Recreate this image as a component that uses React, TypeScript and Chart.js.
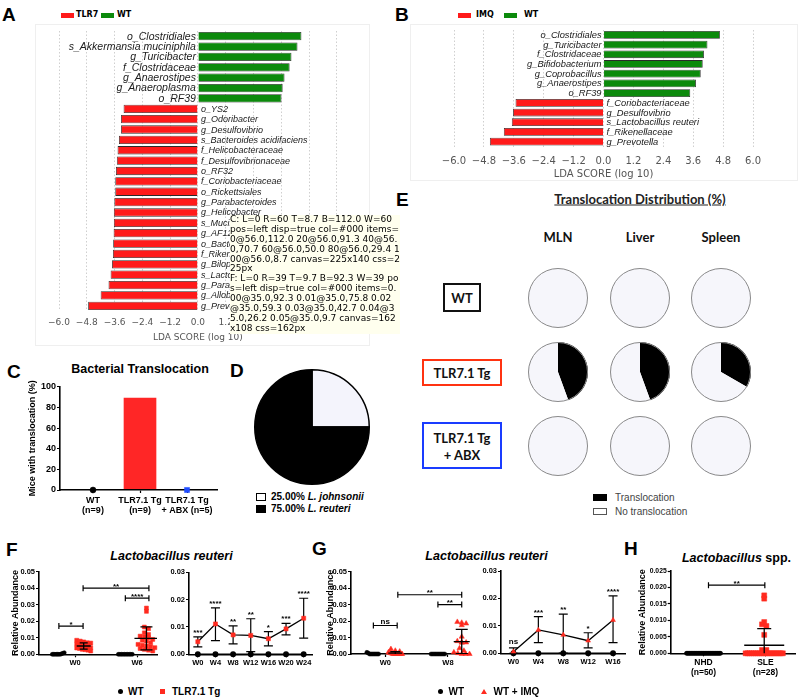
import React, { useEffect, useRef, useState } from 'react';
import { Chart, registerables } from 'chart.js';

Chart.register(...registerables);

const ARIAL = '"Liberation Sans", Arial, Helvetica, sans-serif';
const DEJAVU = '"DejaVu Sans", Verdana, sans-serif';
const CALIBRI = 'Lato, "Open Sans", sans-serif';

const LDA_RED = '#ff1a1a';
const LDA_GREEN = '#0c8a0c';
const PRISM_RED = '#ff2a1f';

// ---------------- Panel A (TLR7 vs WT LEfSe)
const aTaxa = [
  'o_Clostridiales', 's_Akkermansia muciniphila', 'g_Turicibacter', 'f_Clostridaceae', 'g_Anaerostipes',
  'g_Anaeroplasma', 'o_RF39', 'o_YS2', 'g_Odoribacter', 'g_Desulfovibrio', 's_Bacteroides acidifaciens',
  'f_Helicobacteraceae', 'f_Desulfovibrionaceae', 'o_RF32', 'f_Coriobacteriaceae', 'o_Rickettsiales',
  'g_Parabacteroides', 'g_Helicobacter', 's_Mucispirillum schaedleri', 'g_AF12', 'o_Bacteroidales',
  'f_Rikenellaceae', 'g_Bilophila', 's_Lactobacillus reuteri', 'g_Paraprevotella', 'g_Allobaculum', 'g_Prevotella',
];
const aLda = [
  4.47, 4.30, 4.04, 3.96, 3.74, 3.66, 3.61, -3.21, -3.32, -3.32, -3.41, -3.47, -3.50, -3.54, -3.57, -3.57,
  -3.61, -3.63, -3.63, -3.64, -3.66, -3.67, -3.71, -3.77, -3.86, -4.20, -4.74,
];
const ldaTicks = [-6.0, -4.8, -3.6, -2.4, -1.2, 0.0, 1.2, 2.4, 3.6, 4.8, 6.0];

// ---------------- Panel B (IMQ vs WT LEfSe)
const bTaxa = [
  'o_Clostridiales', 'g_Turicibacter', 'f_Clostridaceae', 'g_Bifidobacterium', 'g_Coprobacillus', 'g_Anaerostipes',
  'o_RF39', 'f_Coriobacteriaceae', 'g_Desulfovibrio', 's_Lactobacillus reuteri', 'f_Rikenellaceae', 'g_Prevotella',
];
const bLda = [4.67, 4.17, 4.03, 3.98, 3.90, 3.71, 3.48, -3.53, -3.63, -3.68, -4.00, -4.56];

// ---------------- Panel C
const cGroups = [['WT', '(n=9)'], ['TLR7.1 Tg', '(n=9)'], ['TLR7.1 Tg', '+ ABX (n=5)']];
const cPercent = [0, 88.9, 0];

// ---------------- Panel D
const dSpecies = ['L. johnsonii', 'L. reuteri'];
const dPercent = [25, 75];

// ---------------- Panel E
const eOrgans = ['MLN', 'Liver', 'Spleen'];
const eWT = [0, 0, 0];
const eTLR = [44.4, 44.4, 33.3];
const eABX = [0, 0, 0];

// ---------------- Panel F
const fLeftGroups = ['W0', 'W6'];
const fWtW0 = [0, 0, 0, 0, 0, 0, 0, 0.0003, 0.0006, 0.001];
const fWtW6 = [0, 0, 0, 0, 0, 0, 0, 0, 0, 0];
const fTlrW0 = [0.0085, 0.008, 0.0075, 0.007, 0.0068, 0.0062, 0.006, 0.0055, 0.005, 0.005, 0.0048, 0.0045, 0.0042, 0.004, 0.0038, 0.0035, 0.003, 0.0028, 0.0025, 0.002];
const fTlrW6 = [0.028, 0.026, 0.0165, 0.0155, 0.013, 0.012, 0.011, 0.0105, 0.01, 0.009, 0.0085, 0.008, 0.007, 0.006, 0.0055, 0.005, 0.0045, 0.004, 0.0035, 0.003, 0.0025, 0.002];
const fWeeks = ['W0', 'W4', 'W8', 'W12', 'W16', 'W20', 'W24'];
const fTlrMean = [0.0046, 0.0111, 0.0071, 0.0069, 0.0057, 0.0093, 0.0132];
const fTlrLow = [0.0027, 0.0050, 0.0038, 0.0010, 0.0031, 0.0071, 0.0059];
const fTlrHigh = [0.0064, 0.0170, 0.0104, 0.0130, 0.0083, 0.0113, 0.0205];
const fWtMean = [0, 0, 0, 0, 0, 0, 0];
const fStars = ['***', '****', '**', '**', '*', '***', '****'];

// ---------------- Panel G
const gLeftGroups = ['W0', 'W8'];
const gWtW0 = [0.001, 0.0006, 0, 0, 0, 0, 0, 0, 0, 0];
const gWtW8 = [0, 0, 0, 0, 0, 0, 0, 0, 0, 0];
const gImqW0 = [0.003, 0.002, 0.0015, 0.001, 0.0008, 0.0005, 0.0003, 0, 0, 0, 0, 0, 0, 0, 0, 0];
const gImqW8 = [0.0195, 0.019, 0.0185, 0.0175, 0.0105, 0.0078, 0.0072, 0.007, 0.0068, 0.0035, 0.002, 0.001, 0.0005, 0, 0, 0];
const gWeeks = ['W0', 'W4', 'W8', 'W12', 'W16'];
const gImqMean = [0.0006, 0.0085, 0.0067, 0.0046, 0.0121];
const gImqLow = [0, 0.0039, 0.0001, 0.0020, 0.0039];
const gImqHigh = [0.0020, 0.0134, 0.0143, 0.0075, 0.0209];
const gWtMean = [0, 0, 0, 0, 0];
const gStars = ['ns', '***', '**', '*', '****'];

// ---------------- Panel H
const hGroups = [['NHD', '(n=50)'], ['SLE', '(n=28)']];
const hNhd = [
  0, 0, 0, 0, 0, 0, 0, 0, 0, 0, 0, 0, 0, 0, 0, 0, 0, 0, 0, 0, 0, 0, 0, 0, 0,
  0, 0, 0, 0, 0, 0, 0, 0, 0, 0, 0, 0, 0, 0, 0, 0, 0, 0, 0, 0, 0, 0, 0, 0, 0,
];
const hSle = [
  0.0176, 0.0166, 0.0095, 0.0088, 0.0083, 0.0056, 0.001, 0.001,
  0, 0, 0, 0, 0, 0, 0, 0, 0, 0, 0, 0, 0, 0, 0, 0, 0, 0, 0, 0,
];

// ======================================================== helpers
type Pt = { x: number; y: number };

function swarm(values: number[], cx: number, xppu: number, yppu: number, dot: number, maxHalf: number): Pt[] {
  const bins = new Map<number, number[]>();
  values.forEach((v, i) => {
    const b = Math.round((v * yppu) / dot);
    if (!bins.has(b)) bins.set(b, []);
    bins.get(b)!.push(i);
  });
  const pts = values.map((v) => ({ x: cx, y: v }));
  bins.forEach((idx) => {
    const k = idx.length;
    const step = k > 1 ? Math.min(dot, (2 * maxHalf) / (k - 1)) : 0;
    idx.forEach((i, j) => {
      pts[i].x = cx + ((j - (k - 1) / 2) * step) / xppu;
    });
  });
  return pts;
}

const barLabelsPlugin = (gSize: number, rSize: number) => ({
  id: 'barLabels',
  afterDatasetsDraw(chart: any) {
    const { ctx } = chart;
    const meta = chart.getDatasetMeta(0);
    const x0 = chart.scales.x.getPixelForValue(0);
    const vals = chart.data.datasets[0].data;
    const labels = chart.data.labels;
    ctx.save();
    ctx.fillStyle = '#1a1a1a';
    ctx.textBaseline = 'middle';
    meta.data.forEach((el: any, i: number) => {
      if (vals[i] > 0) {
        ctx.font = `italic ${gSize}px ${ARIAL}`;
        ctx.textAlign = 'right';
        ctx.fillText(labels[i], x0 - 2, el.y + 0.5);
      } else {
        ctx.font = `italic ${rSize}px ${ARIAL}`;
        ctx.textAlign = 'left';
        ctx.fillText(labels[i], x0 + 3, el.y + 0.5);
      }
    });
    ctx.restore();
  },
});

const ringPlugin = (color: string) => ({
  id: 'ring',
  afterDatasetsDraw(chart: any) {
    const el = chart.getDatasetMeta(0).data[0];
    if (!el) return;
    const { ctx } = chart;
    ctx.save();
    ctx.beginPath();
    ctx.arc(el.x, el.y, el.outerRadius - 0.5, 0, Math.PI * 2);
    ctx.strokeStyle = color;
    ctx.lineWidth = 1;
    ctx.stroke();
    ctx.restore();
  },
});

type Stat = { vals: number[]; cx: number; half: number; cap: number };
const meanSdPlugin = (stats: Stat[]) => ({
  id: 'meanSd',
  afterDatasetsDraw(chart: any) {
    const { ctx, chartArea, scales } = chart;
    const { x, y } = scales;
    ctx.save();
    ctx.beginPath();
    ctx.rect(chartArea.left, chartArea.top - 30, chartArea.right - chartArea.left, chartArea.bottom - chartArea.top + 30);
    ctx.clip();
    ctx.strokeStyle = '#000';
    ctx.lineWidth = 1.3;
    stats.forEach((g) => {
      const n = g.vals.length;
      const m = g.vals.reduce((a, b) => a + b, 0) / n;
      const sd = Math.sqrt(g.vals.reduce((a, b) => a + (b - m) * (b - m), 0) / (n - 1));
      const px = x.getPixelForValue(g.cx);
      const pm = y.getPixelForValue(m);
      const pt = y.getPixelForValue(m + sd);
      const pb = y.getPixelForValue(m - sd);
      ctx.beginPath();
      ctx.moveTo(px - g.half, pm);
      ctx.lineTo(px + g.half, pm);
      ctx.moveTo(px, pt);
      ctx.lineTo(px, pb);
      ctx.moveTo(px - g.cap, pt);
      ctx.lineTo(px + g.cap, pt);
      ctx.moveTo(px - g.cap, pb);
      ctx.lineTo(px + g.cap, pb);
      ctx.stroke();
    });
    ctx.restore();
  },
});

type Br = { x1: number; x2: number; y: number; t: string };
const bracketPlugin = (list: Br[]) => ({
  id: 'brackets',
  afterDraw(chart: any) {
    const { ctx, scales } = chart;
    const { x, y } = scales;
    ctx.save();
    ctx.strokeStyle = '#000';
    ctx.fillStyle = '#000';
    ctx.lineWidth = 1.2;
    ctx.font = `bold 8px ${ARIAL}`;
    ctx.textAlign = 'center';
    ctx.textBaseline = 'alphabetic';
    list.forEach((b) => {
      const a = x.getPixelForValue(b.x1);
      const c = x.getPixelForValue(b.x2);
      const py = y.getPixelForValue(b.y);
      ctx.beginPath();
      ctx.moveTo(a, py);
      ctx.lineTo(c, py);
      ctx.moveTo(a, py - 3);
      ctx.lineTo(a, py + 3);
      ctx.moveTo(c, py - 3);
      ctx.lineTo(c, py + 3);
      ctx.stroke();
      ctx.fillText(b.t, (a + c) / 2, b.t === 'ns' ? py - 2 : py + 0.5);
    });
    ctx.restore();
  },
});

const errBarPlugin = (low: number[], high: number[], stars: string[]) => ({
  id: 'errBars',
  beforeDatasetsDraw(chart: any) {
    const { ctx, scales } = chart;
    const { x, y } = scales;
    ctx.save();
    ctx.strokeStyle = '#000';
    ctx.lineWidth = 1.2;
    low.forEach((lo, i) => {
      const px = x.getPixelForValue(i);
      const pl = y.getPixelForValue(lo);
      const ph = y.getPixelForValue(high[i]);
      ctx.beginPath();
      ctx.moveTo(px, pl);
      ctx.lineTo(px, ph);
      ctx.moveTo(px - 4.5, ph);
      ctx.lineTo(px + 4.5, ph);
      ctx.moveTo(px - 4.5, pl);
      ctx.lineTo(px + 4.5, pl);
      ctx.stroke();
    });
    ctx.restore();
  },
  afterDatasetsDraw(chart: any) {
    const { ctx, scales } = chart;
    const { x, y } = scales;
    ctx.save();
    ctx.fillStyle = '#000';
    ctx.font = `bold 8px ${ARIAL}`;
    ctx.textAlign = 'center';
    ctx.textBaseline = 'alphabetic';
    stars.forEach((s, i) => {
      const px = x.getPixelForValue(i);
      const ph = y.getPixelForValue(high[i]);
      ctx.fillText(s, px, s === 'ns' ? ph - 4 : ph - 2);
    });
    ctx.restore();
  },
});

function prismY(max: number, step: number, dec: number, width: number, fontSize: number, title?: { text: string; pad: number }) {
  return {
    type: 'linear',
    min: 0,
    max,
    ticks: {
      display: true,
      stepSize: step,
      autoSkip: false,
      callback: (v: number) => Number(v).toFixed(dec),
      font: { family: ARIAL, size: fontSize, weight: 'bold' },
      color: '#000',
      padding: 1,
    },
    grid: { display: true, offset: false, drawOnChartArea: false, drawTicks: true, tickLength: 3, tickColor: '#000', tickWidth: 1.2 },
    border: { display: true, color: '#000', width: 1.6 },
    title: title
      ? { display: true, text: title.text, font: { family: ARIAL, size: 9, weight: 'bold' }, color: '#000', padding: { top: title.pad, bottom: 0 } }
      : { display: false },
    afterFit: (s: any) => {
      s.width = width;
    },
  };
}

function prismXLinear(min: number, max: number, labels: any[], height: number, fontSize: number, pad: number, lh = 1.2) {
  return {
    type: 'linear',
    min,
    max,
    offset: false,
    afterBuildTicks: (s: any) => {
      s.ticks = labels.map((_l: any, i: number) => ({ value: i + 1 }));
    },
    ticks: {
      callback: (_v: any, i: number) => labels[i],
      font: { family: ARIAL, size: fontSize, weight: 'bold', lineHeight: lh },
      color: '#000',
      padding: pad,
      maxRotation: 0,
      autoSkip: false,
    },
    grid: { display: true, offset: false, drawOnChartArea: false, drawTicks: true, tickLength: 3, tickColor: '#000', tickWidth: 1.2 },
    border: { display: true, color: '#000', width: 1.6 },
    afterFit: (s: any) => {
      s.height = height;
    },
  };
}

function baseOptions(pad: any) {
  return {
    animation: false,
    responsive: false,
    events: [],
    layout: { padding: pad },
    plugins: { legend: { display: false }, tooltip: { enabled: false }, title: { display: false } },
  };
}

function ldaConfig(taxa: string[], vals: number[], g: any) {
  return {
    type: 'bar',
    data: {
      labels: taxa,
      datasets: [
        {
          data: vals,
          backgroundColor: vals.map((v) => (v > 0 ? LDA_GREEN : LDA_RED)),
          borderColor: '#2a2a2a',
          borderWidth: 0.8,
          barPercentage: 0.8,
          categoryPercentage: 1,
        },
      ],
    },
    options: {
      ...baseOptions({ left: g.padL, right: g.padR, top: g.padT, bottom: 0 }),
      indexAxis: 'y',
      scales: {
        x: {
          type: 'linear',
          min: -6,
          max: 6,
          afterBuildTicks: (s: any) => {
            s.ticks = ldaTicks.map((v) => ({ value: v }));
          },
          ticks: {
            callback: (v: number) => (v < 0 ? '\u2212' : '') + Math.abs(v).toFixed(1),
            font: { family: DEJAVU, size: g.tickSize },
            color: '#555',
            padding: g.tickPad,
            maxRotation: 0,
            autoSkip: false,
          },
          grid: { display: true, drawTicks: false, color: '#cfcfcf', lineWidth: 1 },
          border: { display: false, dash: [1.5, 2] },
          title: { display: true, text: 'LDA SCORE (log 10)', font: { family: DEJAVU, size: g.titleSize }, color: '#555', padding: 0 },
          afterFit: (s: any) => {
            s.height = g.xh;
          },
        },
        y: { display: false },
      },
    },
    plugins: [barLabelsPlugin(g.gSize, g.rSize)],
  };
}

function dotConfig(o: any) {
  return {
    type: 'scatter',
    data: {
      datasets: o.sets.map((s: any) => ({
        data: s.pts,
        pointStyle: s.style,
        pointRadius: s.r,
        pointBackgroundColor: s.color,
        pointBorderColor: s.color,
        pointBorderWidth: 0.5,
        clip: false,
      })),
    },
    options: {
      ...baseOptions({ left: 0, right: o.padR, top: o.padT, bottom: 0 }),
      scales: {
        x: prismXLinear(o.xMin, o.xMax, o.labels, o.xh, o.xFont, o.xPad, o.xLh || 1.2),
        y: prismY(o.yMax, o.yStep, o.yDec, o.yW, o.yFont, { text: o.yTitle || 'Relative Abundance', pad: o.titlePad }),
      },
    },
    plugins: [meanSdPlugin(o.stats || []), bracketPlugin(o.brackets || [])],
  };
}

function timeConfig(o: any) {
  return {
    type: 'line',
    data: {
      labels: o.labels,
      datasets: [
        {
          data: o.mean,
          borderColor: '#000',
          borderWidth: 1.3,
          pointStyle: o.style,
          pointRadius: o.r,
          pointBackgroundColor: PRISM_RED,
          pointBorderColor: PRISM_RED,
          pointBorderWidth: 0.5,
          clip: false,
        },
        {
          data: o.wt,
          borderColor: '#000',
          borderWidth: 1.5,
          pointStyle: 'circle',
          pointRadius: 2.2,
          pointBackgroundColor: '#000',
          pointBorderColor: '#000',
          clip: false,
        },
      ],
    },
    options: {
      ...baseOptions({ left: 0, right: o.padR, top: o.padT, bottom: 0 }),
      scales: {
        x: {
          type: 'category',
          offset: true,
          ticks: { font: { family: ARIAL, size: 7.5, weight: 'bold' }, color: '#000', padding: 1, maxRotation: 0, autoSkip: false },
          grid: { display: true, offset: false, drawOnChartArea: false, drawTicks: true, tickLength: 3, tickColor: '#000', tickWidth: 1.2 },
          border: { display: true, color: '#000', width: 1.6 },
          afterFit: (s: any) => {
            s.height = o.xh;
          },
        },
        y: prismY(o.yMax, o.yStep, o.yDec, o.yW, o.yFont),
      },
    },
    plugins: [errBarPlugin(o.low, o.high, o.stars)],
  };
}

function pieConfig(data: number[], colors: string[], border: string, bw: number, ring?: string) {
  return {
    type: 'pie',
    data: {
      datasets: [
        { data, backgroundColor: colors, borderColor: border, borderWidth: bw, hoverOffset: 0, offset: 0 },
      ],
    },
    options: baseOptions(0),
    plugins: ring ? [ringPlugin(ring)] : [],
  };
}

const C_XMIN = 0.298;
const C_XMAX = 3.638;
function cBarConfig() {
  return {
    type: 'bar',
    data: {
      datasets: [{ data: [{ x: 2, y: cPercent[1] }], backgroundColor: '#ff2626', barThickness: 32 }],
    },
    options: {
      ...baseOptions({ left: 60, right: 8, top: 8.7, bottom: 28 }),
      scales: {
        x: { type: 'linear', display: false, min: C_XMIN, max: C_XMAX, offset: false },
        y: { type: 'linear', display: false, min: 0, max: 100 },
      },
    },
  };
}
function cAxisConfig() {
  return dotConfig({
    sets: [
      { pts: [{ x: 1, y: cPercent[0] }], style: 'circle', r: 3, color: '#000' },
      { pts: [{ x: 3, y: cPercent[2] }], style: 'rect', r: 3.6, color: '#1f4cff' },
    ],
    xMin: C_XMIN,
    xMax: C_XMAX,
    labels: cGroups,
    xh: 28,
    xFont: 9,
    xPad: 2,
    xLh: 1.15,
    yMax: 100,
    yStep: 20,
    yDec: 0,
    yW: 60,
    yFont: 9,
    yTitle: 'Mice with translocation (%)',
    titlePad: 27,
    padR: 8,
    padT: 8.7,
  });
}

// ======================================================== components
const DEBUG: string[] = [];
function ChartBox({ x, y, w, h, make, tag, onInfo }: any) {
  const ref = useRef<HTMLCanvasElement>(null);
  useEffect(() => {
    const c: any = new Chart(ref.current as HTMLCanvasElement, make());
    if (tag && onInfo) {
      const s = c.scales.y;
      let items: any = [];
      try {
        items = s.getLabelItems(c.chartArea).map((it: any) => `${it.label}@${it.options.translation.map((n: number) => n.toFixed(1)).join(',')}`);
      } catch (e: any) {
        items = ['ERR ' + e.message];
      }
      onInfo(
        `${tag}: L=${s.left} R=${s.right} T=${s.top.toFixed(1)} B=${s.bottom.toFixed(1)} W=${s.width} pos=${s.options.position} disp=${s.options.ticks.display} col=${s.options.ticks.color} items=${items.join(' ')} canvas=${c.width}x${c.height} css=${ref.current!.style.width}`
      );
    }
    return () => c.destroy();
  }, []);
  return <canvas ref={ref} width={w} height={h} style={{ position: 'absolute', left: x, top: y, width: w, height: h }} />;
}

function T({ x, y, size, children, bold, italic, align = 'left', font = ARIAL, color = '#000', style = {} }: any) {
  const tx = align === 'center' ? '-50%' : align === 'right' ? '-100%' : '0';
  return (
    <div
      style={{
        position: 'absolute',
        left: x,
        top: y,
        transform: `translate(${tx}, -50%)`,
        fontFamily: font,
        fontSize: size,
        fontWeight: bold ? 'bold' : 'normal',
        fontStyle: italic ? 'italic' : 'normal',
        color,
        whiteSpace: 'nowrap',
        lineHeight: 1,
        ...style,
      }}
    >
      {children}
    </div>
  );
}

function Box({ x, y, w, h, style }: any) {
  return <div style={{ position: 'absolute', left: x, top: y, width: w, height: h, boxSizing: 'border-box', ...style }} />;
}

const eRows = [eWT, eTLR, eABX];
const eColX = [558, 640, 721];
const eRowY = [298, 372, 446];

export default function App() {
  const F_XPPU = 62;
  const F_YPPU = 82.6 / 0.05;
  const G_XPPU = 64;
  const G_YPPU = 82.3 / 0.05;
  const H_XPPU = 63.2;
  const H_YPPU = 82.3 / 0.025;
  const [dbg, setDbg] = useState<string[]>([]);
  const onInfo = (s: string) => setDbg((d) => [...d, s]);

  return (
    <div style={{ position: 'absolute', left: 0, top: 0, width: 800, height: 697, background: '#fff', overflow: 'hidden' }}>
      <T x={2} y={13.5} size={19} bold>A</T>
      <T x={395} y={13.5} size={19} bold>B</T>
      <T x={7} y={371} size={19} bold>C</T>
      <T x={230} y={370} size={19} bold>D</T>
      <T x={396} y={198.5} size={19} bold>E</T>
      <T x={6} y={548.5} size={19} bold>F</T>
      <T x={312} y={547.5} size={19} bold>G</T>
      <T x={624} y={547.5} size={19} bold>H</T>

      <Box x={35} y={24} w={335} h={322} style={{ border: '1px solid #efefef' }} />
      <Box x={61} y={12.5} w={13} h={5} style={{ background: LDA_RED }} />
      <T x={76} y={15} size={8} bold font={DEJAVU}>TLR7</T>
      <Box x={101} y={12.5} w={13} h={5} style={{ background: LDA_GREEN }} />
      <T x={117} y={15} size={8} bold font={DEJAVU}>WT</T>
      <ChartBox x={30} y={25} w={320} h={318} make={() => ldaConfig(aTaxa, aLda, { padL: 29, padR: 12, padT: 6, xh: 32, tickSize: 9, tickPad: 6, titleSize: 9, gSize: 10.5, rSize: 9 })} />

      <Box x={410} y={24} w={388} h={157} style={{ border: '1px solid #efefef' }} />
      <Box x={458} y={12.5} w={13} h={5} style={{ background: LDA_RED }} />
      <T x={476} y={15} size={8} bold font={DEJAVU}>IMQ</T>
      <Box x={504} y={12.5} w={13} h={5} style={{ background: LDA_GREEN }} />
      <T x={524} y={15} size={8} bold font={DEJAVU}>WT</T>
      <ChartBox x={430} y={24} w={340} h={156} make={() => ldaConfig(bTaxa, bLda, { padL: 24, padR: 14, padT: 6, xh: 33.5, tickSize: 10, tickPad: 9, titleSize: 10, gSize: 9.3, rSize: 9.3 })} />

      <T x={140} y={369} size={12.5} bold align="center">Bacterial Translocation</T>
      <ChartBox x={0} y={378} w={225} h={140} make={cBarConfig} />
      <ChartBox x={0} y={378} w={225} h={140} make={cAxisConfig} tag="C" onInfo={onInfo} />

      <ChartBox x={254} y={369} w={116} h={116} make={() => pieConfig(dPercent, ['#f4f4fc', '#000000'], '#000', 1.5)} />
      <Box x={256} y={493} w={10} h={8} style={{ border: '1px solid #000', background: '#fff' }} />
      <T x={271} y={497.3} size={10} bold>
        {dPercent[0].toFixed(2)}% <i>{dSpecies[0]}</i>
      </T>
      <Box x={256} y={505} w={10} h={8} style={{ background: '#000' }} />
      <T x={271} y={509.3} size={10} bold>
        {dPercent[1].toFixed(2)}% <i>{dSpecies[1]}</i>
      </T>

      <T x={640} y={199} size={13} bold align="center" font={CALIBRI} color="#222" style={{ textDecoration: 'underline' }}>
        Translocation Distribution (%)
      </T>
      {eOrgans.map((o, i) => (
        <T key={o} x={eColX[i]} y={237} size={13} bold align="center" font={CALIBRI} color="#111">
          {o}
        </T>
      ))}
      <Box x={443} y={283} w={38} h={29} style={{ border: '2px solid #111' }} />
      <T x={462} y={297.5} size={13} bold align="center" font={CALIBRI} color="#111">WT</T>
      <Box x={422} y={359} w={80} h={27} style={{ border: '2px solid #ff3311' }} />
      <T x={462} y={372.5} size={13} bold align="center" font={CALIBRI} color="#111">TLR7.1 Tg</T>
      <Box x={422} y={422} w={80} h={47} style={{ border: '2px solid #1a3cff' }} />
      <T x={462} y={438} size={13} bold align="center" font={CALIBRI} color="#111">TLR7.1 Tg</T>
      <T x={462} y={455} size={13} bold align="center" font={CALIBRI} color="#111">+ ABX</T>
      {eRows.map((row, r) =>
        row.map((pct, c) => (
          <ChartBox key={`${r}-${c}`} x={eColX[c] - 30} y={eRowY[r] - 30} w={60} h={60} make={() => pieConfig([pct, 100 - pct], ['#000000', '#f6f6fb'], '#000', 0, '#8a8a8a')} />
        ))
      )}
      <Box x={593} y={494} w={14} h={7} style={{ background: '#000' }} />
      <T x={615} y={497.5} size={10} color="#444">Translocation</T>
      <Box x={593} y={508} w={14} h={7} style={{ border: '1px solid #555', background: '#fff' }} />
      <T x={615} y={511.5} size={10} color="#444">No translocation</T>

      <T x={171.5} y={556} size={12.5} bold italic align="center">Lactobacillus reuteri</T>
      <ChartBox
        x={0}
        y={562}
        w={162}
        h={108}
        tag="F"
        onInfo={onInfo}
        make={() =>
          dotConfig({
            sets: [
              { pts: swarm(fWtW0, 0.73, F_XPPU, F_YPPU, 4, 6), style: 'circle', r: 2, color: '#000' },
              { pts: swarm(fTlrW0, 1.14, F_XPPU, F_YPPU, 4.2, 7), style: 'rect', r: 2.8, color: PRISM_RED },
              { pts: swarm(fWtW6, 1.81, F_XPPU, F_YPPU, 4, 7), style: 'circle', r: 2, color: '#000' },
              { pts: swarm(fTlrW6, 2.15, F_XPPU, F_YPPU, 4.2, 10), style: 'rect', r: 2.8, color: PRISM_RED },
            ],
            stats: [
              { vals: fWtW0, cx: 0.73, half: 7, cap: 4 },
              { vals: fTlrW0, cx: 1.14, half: 7, cap: 4 },
              { vals: fWtW6, cx: 1.81, half: 7, cap: 4 },
              { vals: fTlrW6, cx: 2.15, half: 12, cap: 6 },
            ],
            brackets: [
              { x1: 0.74, x2: 1.13, y: 0.0171, t: '*' },
              { x1: 1.13, x2: 2.19, y: 0.040, t: '**' },
              { x1: 1.81, x2: 2.19, y: 0.034, t: '****' },
            ],
            xMin: 0.42, xMax: 2.32, labels: fLeftGroups, xh: 15.7, xFont: 7.5, xPad: 1,
            yMax: 0.05, yStep: 0.01, yDec: 2, yW: 39, yFont: 7.5, titlePad: 10, padR: 5, padT: 9.7,
          })
        }
      />
      <ChartBox
        x={162}
        y={562}
        w={156}
        h={108}
        make={() =>
          timeConfig({
            labels: fWeeks, mean: fTlrMean, low: fTlrLow, high: fTlrHigh, wt: fWtMean, stars: fStars,
            style: 'rect', r: 2.9, yMax: 0.03, yStep: 0.01, yDec: 2, yW: 27, yFont: 7.5, xh: 15.7, padR: 5, padT: 10.3,
          })
        }
      />
      <div style={{ position: 'absolute', left: 117.5, top: 689.2, width: 5, height: 5, borderRadius: '50%', background: '#000' }} />
      <T x={128} y={691.7} size={10} bold>WT</T>
      <Box x={159.5} y={689.2} w={5} h={5} style={{ background: PRISM_RED }} />
      <T x={172} y={691.7} size={10} bold>TLR7.1 Tg</T>

      <T x={486.5} y={556} size={12.5} bold italic align="center">Lactobacillus reuteri</T>
      <ChartBox
        x={310}
        y={562}
        w={165}
        h={108}
        make={() =>
          dotConfig({
            sets: [
              { pts: swarm(gWtW0, 0.8, G_XPPU, G_YPPU, 4, 6), style: 'circle', r: 2, color: '#000' },
              { pts: swarm(gImqW0, 1.16, G_XPPU, G_YPPU, 4.5, 7), style: 'triangle', r: 3, color: PRISM_RED },
              { pts: swarm(gWtW8, 1.84, G_XPPU, G_YPPU, 4, 7), style: 'circle', r: 2, color: '#000' },
              { pts: swarm(gImqW8, 2.22, G_XPPU, G_YPPU, 4.5, 8), style: 'triangle', r: 3, color: PRISM_RED },
            ],
            stats: [
              { vals: gWtW0, cx: 0.8, half: 7, cap: 4 },
              { vals: gImqW0, cx: 1.16, half: 7, cap: 5 },
              { vals: gWtW8, cx: 1.84, half: 7, cap: 4 },
              { vals: gImqW8, cx: 2.22, half: 8, cap: 6 },
            ],
            brackets: [
              { x1: 0.81, x2: 1.19, y: 0.0173, t: 'ns' },
              { x1: 1.2, x2: 2.22, y: 0.036, t: '**' },
              { x1: 1.84, x2: 2.22, y: 0.030, t: '**' },
            ],
            xMin: 0.453, xMax: 2.36, labels: gLeftGroups, xh: 16, xFont: 7.5, xPad: 1,
            yMax: 0.05, yStep: 0.01, yDec: 2, yW: 41, yFont: 7.5, titlePad: 15.6, padR: 2, padT: 9.7,
          })
        }
      />
      <ChartBox
        x={475}
        y={562}
        w={156}
        h={108}
        make={() =>
          timeConfig({
            labels: gWeeks, mean: gImqMean, low: gImqLow, high: gImqHigh, wt: gWtMean, stars: gStars,
            style: 'triangle', r: 2.8, yMax: 0.03, yStep: 0.01, yDec: 2, yW: 26, yFont: 7.5, xh: 16.7, padR: 4, padT: 9,
          })
        }
      />
      <div style={{ position: 'absolute', left: 437.5, top: 689.2, width: 5, height: 5, borderRadius: '50%', background: '#000' }} />
      <T x={448.5} y={691.7} size={10} bold>WT</T>
      <div style={{ position: 'absolute', left: 481, top: 688.5, width: 0, height: 0, borderLeft: '3px solid transparent', borderRight: '3px solid transparent', borderBottom: `5.5px solid ${PRISM_RED}` }} />
      <T x={493.5} y={691.7} size={10} bold>WT + IMQ</T>

      <T x={736.5} y={558} size={12.5} bold align="center">
        <i>Lactobacillus</i> spp.
      </T>
      <ChartBox
        x={625}
        y={562}
        w={175}
        h={118}
        make={() =>
          dotConfig({
            sets: [
              { pts: swarm(hNhd, 1.0, H_XPPU, H_YPPU, 4, 17.5), style: 'circle', r: 2, color: '#000' },
              { pts: swarm(hSle, 1.98, H_XPPU, H_YPPU, 4.5, 19), style: 'rect', r: 3.5, color: PRISM_RED },
            ],
            stats: [
              { vals: hNhd, cx: 1.0, half: 18, cap: 6 },
              { vals: hSle, cx: 1.98, half: 20, cap: 7 },
            ],
            brackets: [{ x1: 1.08, x2: 1.99, y: 0.0207, t: '**' }],
            xMin: 0.47, xMax: 2.485, labels: hGroups, xh: 26.7, xFont: 8.5, xPad: 1, xLh: 1.18,
            yMax: 0.025, yStep: 0.005, yDec: 3, yW: 45.7, yFont: 6.8, titlePad: 12.6, padR: 2, padT: 9,
          })
        }
      />
      <div style={{ position: 'absolute', left: 230, top: 215, width: 170, fontSize: 9, fontFamily: 'DejaVu Sans', background: '#ffe', wordBreak: 'break-all', lineHeight: 1.1 }}>
        {dbg.map((d, i) => (
          <div key={i}>{d}</div>
        ))}
      </div>
    </div>
  );
}
